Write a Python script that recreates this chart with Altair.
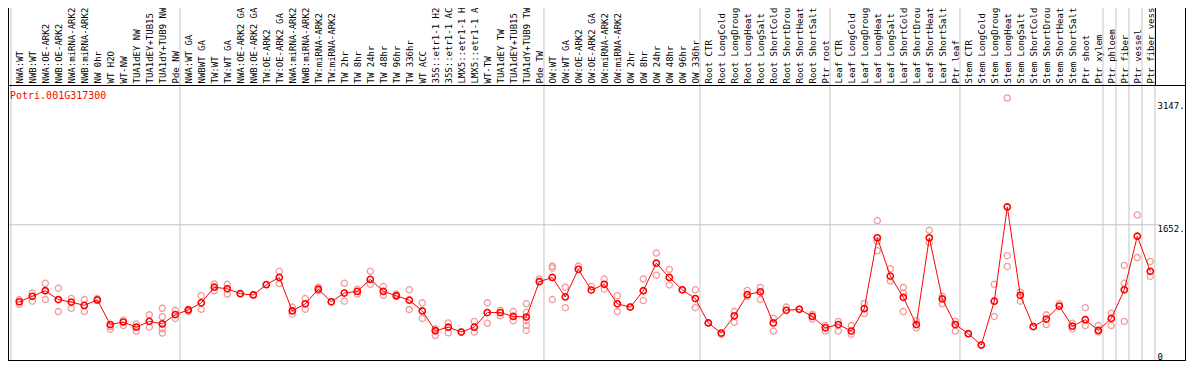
import altair as alt
import pandas as pd
import json

gene = "Potri.001G317300"

samples = [
    "NWA:WT", "NWB:WT", "NWA:OE-ARK2", "NWB:OE-ARK2", "NWA:miRNA-ARK2", "NWB:miRNA-ARK2",
    "NW 0hr", "WT H2O", "WT-NW", "TUA1dEY NW", "TUA1dEY+TUB15 NW", "TUA1dY+TUB9 NW", "Pde NW",
    "NWA:WT GA", "NWBWT GA", "TW:WT", "TW:WT GA", "NWA:OE-ARK2 GA", "NWB:OE-ARK2 GA",
    "TW:OE-ARK2", "TW:OE-ARK2 GA", "NWA:miRNA-ARK2", "NWB:miRNA-ARK2", "TW:miRNA-ARK2",
    "TW:miRNA-ARK2", "TW 2hr", "TW 8hr", "TW 24hr", "TW 48hr", "TW 96hr", "TW 336hr", "WT ACC",
    "35S::etr1-1 H2O", "35S::etr1-1 ACC", "LMX5::etr1-1 H2O", "LMX5::etr1-1 ACC", "WT-TW",
    "TUA1dEY TW", "TUA1dEY+TUB15 TW", "TUA1dY+TUB9 TW", "Pde TW",
    "OW:WT", "OW:WT GA", "OW:OE-ARK2", "OW:OE-ARK2 GA", "OW:miRNA-ARK2", "OW:miRNA-ARK2",
    "OW 2hr", "OW 8hr", "OW 24hr", "OW 48hr", "OW 96hr", "OW 336hr",
    "Root CTR", "Root LongCold", "Root LongDrought", "Root LongHeat", "Root LongSalt",
    "Root ShortCold", "Root ShortDrought", "Root ShortHeat", "Root ShortSalt", "Ptr root",
    "Leaf CTR", "Leaf LongCold", "Leaf LongDrought", "Leaf LongHeat", "Leaf LongSalt",
    "Leaf ShortCold", "Leaf ShortDrought", "Leaf ShortHeat", "Leaf ShortSalt", "Ptr leaf",
    "Stem CTR", "Stem LongCold", "Stem LongDrought", "Stem LongHeat", "Stem LongSalt",
    "Stem ShortCold", "Stem ShortDrought", "Stem ShortHeat", "Stem ShortSalt", "Ptr shoot",
    "Ptr xylem", "Ptr phloem", "Ptr fiber", "Ptr vessel", "Ptr fiber vessel",
]

group_sizes = [13, 28, 12, 10, 10, 11, 1, 1, 1, 1]

means = [
    683, 752, 822, 711, 679, 638, 707, 397, 429, 364, 437, 405, 523,
    580, 670, 867, 846, 785, 769, 899, 989, 568, 658, 842, 683, 793, 814, 965, 814, 760,
    703, 568, 319, 364, 303, 364, 548, 548, 499, 491, 936,
    989, 744, 1091, 830, 903, 658, 617, 822, 1169, 989, 834, 724,
    417, 290, 507, 773, 809, 417, 576, 589, 499, 356,
    397, 315, 597, 1488, 1006, 740, 397, 1488, 719, 397,
    282, 139, 691, 1876, 764, 372, 466, 630, 376, 458, 323,
    474, 834, 1508, 1067,
]

replicates = [
    [711, 650], [793, 691], [916, 711], [854, 560], [724, 601], [711, 560], [724, 699],
    [372, 339], [454, 384], [405, 315], [519, 364], [601, 495, 343, 290], [576, 474],
    [589, 560], [760, 589], [908, 822], [903, 781], [785], [769], [899], [1067, 912],
    [617, 527], [724, 589], [867, 822], [683], [916, 691], [842, 781], [1067, 903],
    [875, 764], [781, 748], [834, 585], [670, 474], [343, 258], [417, 294], [303],
    [437, 303], [670, 413], [576, 507], [560, 446], [658, 548, 446, 384, 323], [969],
    [1132, 1108, 711], [867, 609], [1132], [875], [969, 842], [760, 560], [617],
    [969, 699], [1296, 1018], [1091, 895], [834], [834, 609],
    [417], [274], [560, 425], [826, 752], [863, 711], [478, 315], [617], [589],
    [527, 466], [384, 315],
    [437, 315], [384, 274], [662, 536], [1705, 1447, 1325], [1100, 944], [863, 793, 560],
    [446, 356], [1582, 1427], [752, 658], [437, 315],
    [282], [139], [903, 499], [3246, 1263, 1128], [805, 691], [372], [519, 397], [658],
    [413, 343], [609, 384], [384, 303],
    [540, 384], [1141, 916, 437], [1774, 1239], [1190, 1002],
]

y_ticks = [0, 1652, 3147]

# ---------------- layout ----------------
W, H = 1147, 276
PAD_TOP, PAD_RIGHT, PAD_BOTTOM = 77, 31, 1
MONO = "DejaVu Sans Mono"
GRID = "#c4c4c4"

idx = list(range(len(samples)))
df_mean = pd.DataFrame({"i": idx, "sample": samples, "v": means})
df_rep = pd.DataFrame(
    [{"i": i, "v": v} for i, reps in enumerate(replicates) for v in reps]
)

# group separators (just after each group's last sample)
ends = []
acc = 0
for g in group_sizes:
    acc += g
    ends.append(acc - 1)
df_sep = pd.DataFrame({"b": [-1 + 0.36] + [e + 0.36 for e in ends]})

x_scale = alt.Scale(domain=[-0.8692, 87.3615], nice=False, zero=False)
y_scale = alt.Scale(domain=[-61.3, 3409.4], nice=False, zero=False)

label_expr = json.dumps(samples) + "[datum.value]"
x_axis = alt.Axis(
    orient="top", values=idx, labelExpr=label_expr, labelAngle=270,
    labelAlign="left", labelBaseline="middle", labelPadding=2, ticks=False,
    tickSize=0, domain=False, grid=False, title=None, labelOverlap=False,
    labelFlush=False, labelBound=False, labelFont=MONO, labelFontSize=9,
    labelColor="black", labelLimit=0,
)
y_axis = alt.Axis(
    orient="right", values=y_ticks,
    labelExpr="datum.value == 0 ? '0' : datum.value + '.'",
    labelBaseline=alt.condition("datum.value == 1652", alt.value("top"), alt.value("middle")),
    labelAlign="left", labelPadding=2, ticks=False, tickSize=0, domain=False,
    grid=False, title=None, labelFont=MONO, labelFontSize=9, labelColor="black",
    labelOverlap=False, labelFlush=False,
)


def X(field):
    return alt.X(field, type="quantitative", scale=x_scale, axis=x_axis)


def Y(field):
    return alt.Y(field, type="quantitative", scale=y_scale, axis=y_axis)


one = pd.DataFrame({"k": [0]})
RIGHT = W + PAD_RIGHT

seps = alt.Chart(df_sep).mark_rule(color=GRID, strokeWidth=1).encode(
    x=X("b"), y=alt.value(-PAD_TOP), y2=alt.value(H)
)
hline = alt.Chart(pd.DataFrame({"v": [y_ticks[1]]})).mark_rule(color=GRID, strokeWidth=1).encode(
    y=Y("v"), x=alt.value(0), x2=alt.value(W + 5)
)
frame_top = alt.Chart(one).mark_rule(color="black", strokeWidth=1).encode(
    x=alt.value(0), x2=alt.value(RIGHT), y=alt.value(0.5)
)
frame_bottom = alt.Chart(one).mark_rule(color="black", strokeWidth=1).encode(
    x=alt.value(0), x2=alt.value(RIGHT), y=alt.value(H - 0.5)
)
frame_left = alt.Chart(one).mark_rule(color="black", strokeWidth=1).encode(
    x=alt.value(0.5), y=alt.value(-PAD_TOP), y2=alt.value(H)
)
frame_right = alt.Chart(one).mark_rule(color="black", strokeWidth=1).encode(
    x=alt.value(RIGHT - 0.5), y=alt.value(-PAD_TOP), y2=alt.value(H)
)
frame_hdr = alt.Chart(one).mark_rule(color="black", strokeWidth=1).encode(
    x=alt.value(W + 0.5), y=alt.value(-PAD_TOP), y2=alt.value(0)
)

reps_layer = alt.Chart(df_rep).mark_point(
    shape="circle", filled=False, color="#f09c9c", size=38, strokeWidth=1.3, opacity=1
).encode(x=X("i"), y=Y("v"))

line_layer = alt.Chart(df_mean).mark_line(color="red", strokeWidth=1).encode(
    x=X("i"), y=Y("v"), order="i:Q"
)
mean_layer = alt.Chart(df_mean).mark_point(
    shape="circle", filled=False, color="red", size=38, strokeWidth=1.6, opacity=1
).encode(x=X("i"), y=Y("v"))

title_layer = alt.Chart(pd.DataFrame({"t": [gene]})).mark_text(
    font=MONO, fontSize=10, color="red", align="left", baseline="top"
).encode(text="t:N", x=alt.value(2), y=alt.value(6))

chart = alt.layer(
    seps, hline, frame_top, frame_bottom, frame_left, frame_right, frame_hdr,
    reps_layer, line_layer, mean_layer, title_layer,
).properties(
    width=W, height=H,
    autosize=alt.AutoSizeParams(type="none"),
    padding={"left": 0, "top": PAD_TOP, "right": PAD_RIGHT, "bottom": PAD_BOTTOM},
    background="white",
).configure_view(stroke=None)

chart.save("out.html", embed_options={"renderer": "svg", "actions": False})
